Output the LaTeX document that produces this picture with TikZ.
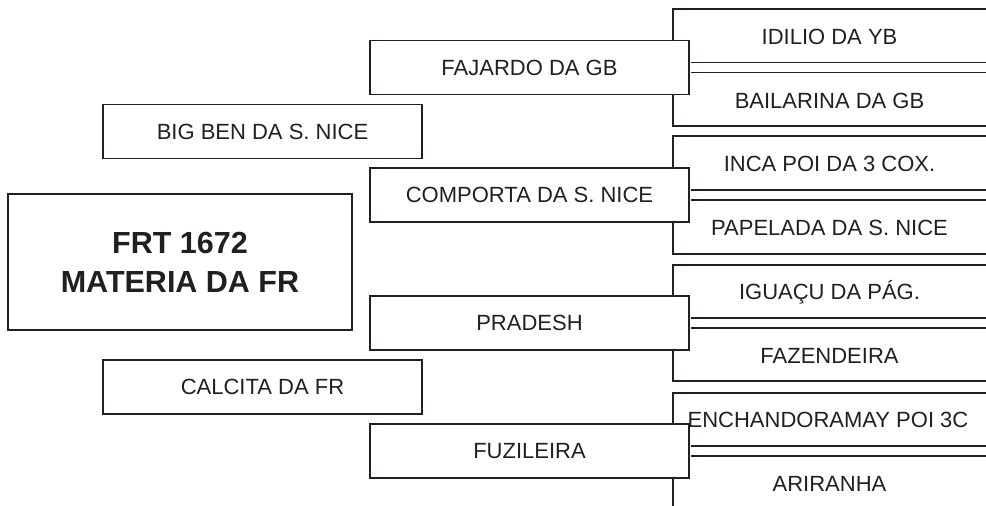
\documentclass[tikz,border=0pt]{standalone}
\usepackage{fontspec}
\setmainfont{Liberation Sans}
\usepackage{tikz}
\usetikzlibrary{positioning}

\definecolor{inkgray}{HTML}{231F20}

\tikzset{
  horse/.style={draw=inkgray, fill=white, line width=1.5pt, minimum width=319pt,
    minimum height=54pt, inner sep=0pt, text=inkgray, font=\fontsize{22}{26}\selectfont},
  mainhorse/.style={horse, minimum width=344pt, minimum height=136pt, align=center,
    font=\fontsize{30.5}{39}\selectfont\bfseries},
  grandname/.style={inner sep=0pt, text=inkgray, font=\fontsize{22}{26}\selectfont},
  frame/.style={draw=inkgray, line width=1.5pt},
  pair/.style={frame, double, double distance=8.5pt, shorten <=0.75pt}
}

\begin{document}
\begin{tikzpicture}[x=1pt, y=-1pt]
    \useasboundingbox (0,0) rectangle (986,506);
    \coordinate (edge) at (986,0);

    % frames of the grandparents
    \draw[frame] (986,9) -- (673,9) -- (673,126) -- (986,126);
    \draw[frame] (986,136) -- (673,136) -- (673,254) -- (986,254);
    \draw[frame] (986,265) -- (673,265) -- (673,381) -- (986,381);
    \draw[frame] (986,393) -- (673,393) -- (673,506);

    \node[mainhorse] (materia) at (180,262) {FRT 1672\\MATERIA DA FR};
    \node[horse] (bigben) at (262.5,131.5) {BIG BEN DA S. NICE};
    \node[horse] (calcita) at (262.5,387) {CALCITA DA FR};

    \node[horse] (fajardo) at (529.5,67.5) {FAJARDO DA GB};
    \node[horse] (comporta) at (529.5,195) {COMPORTA DA S. NICE};
    \node[horse] (pradesh) at (529.5,323) {PRADESH};
    \node[horse] (fuzileira) at (529.5,451) {FUZILEIRA};

    \node[grandname] (idilio) at (829.5,37) {IDILIO DA YB};
    \node[grandname] (bailarina) at (829.5,100.5) {BAILARINA DA GB};
    \node[grandname] (inca) at (829.5,164) {INCA POI DA 3 COX.};
    \node[grandname] (papelada) at (829.5,228) {PAPELADA DA S. NICE};
    \node[grandname] (iguacu) at (829.5,292) {IGUAÇU DA PÁG.};
    \node[grandname] (fazendeira) at (829.5,356) {FAZENDEIRA};
    \node[grandname] (enchandoramay) at (828,420) {ENCHANDORAMAY POI 3C};
    \node[grandname] (ariranha) at (829.5,484) {ARIRANHA};

    \draw[pair] (fajardo.east) -- (fajardo.east -| edge);
    \draw[pair] (comporta.east) -- (comporta.east -| edge);
    \draw[pair] (pradesh.east) -- (pradesh.east -| edge);
    \draw[pair] (fuzileira.east) -- (fuzileira.east -| edge);
  \end{tikzpicture}
\end{document}
